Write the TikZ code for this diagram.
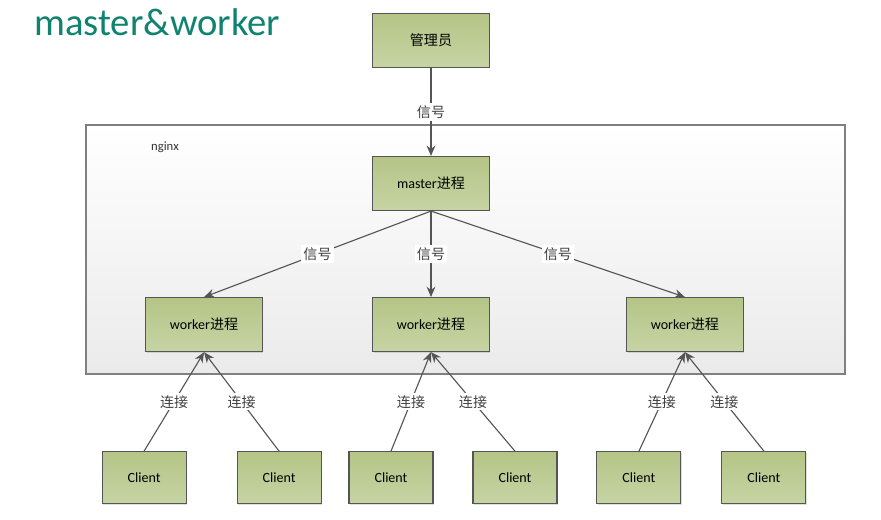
\documentclass[tikz,border=0pt]{standalone}
\usepackage{fontspec}
\setmainfont{Carlito}
\newfontfamily\cjk{Noto Sans CJK SC}
\usepackage{xcolor}
\definecolor{boxgreen}{RGB}{180, 197, 134}
\definecolor{linegray}{RGB}{85, 85, 85}
\definecolor{titleteal}{RGB}{16, 130, 112}
\usepackage{tikz}
\usetikzlibrary{
    arrows.meta,
    positioning,
    shadows
}
\tikzstyle{arrow} = [
    thick,
    draw=linegray,
    -{Stealth[length=2.6mm, width=2.2mm]}
]

\begin{document}
\begin{tikzpicture}[
  node distance=2.15cm and 2.725cm,
  box/.style={draw=linegray, thick, top color=boxgreen, bottom color=boxgreen!75!white,
    minimum width=2.92cm, minimum height=1.35cm, font=\normalsize,
    drop shadow={opacity=0.25, shadow xshift=0.7pt, shadow yshift=-0.7pt}},
  client/.style={box, minimum width=2.1cm, minimum height=1.3cm},
  lbl/.style={fill=white, inner sep=1.5pt, font=\cjk\normalsize, text=black!75},
  frame/.style={draw=black!50, thick, top color=white, bottom color=black!8}
]
\useasboundingbox (0,0) rectangle (22.025,-13);

\node[anchor=base west, inner sep=0pt, text=titleteal, font=\fontsize{27.5}{32}\selectfont] (title) at (0.85,-0.88) {master\&worker};

% nginx frame
\draw[frame] (2.15,-3.125) rectangle (21.125,-9.35);
\node[font=\small, text=black!80] (nginx) at (4.125,-3.675) {nginx};

\node[box] (master) at (10.775,-4.5875) {master{\cjk 进程}};
\node[box] (admin) [above=2.2cm of master] {\cjk 管理员};
\node[box] (w2) [below=of master] {worker{\cjk 进程}};
\node[box] (w1) [left=of w2] {worker{\cjk 进程}};
\node[box] (w3) [right=3.4cm of w2] {worker{\cjk 进程}};

\node[client] (c1) [below=2.475cm of w1, xshift=-1.5cm] {Client};
\node[client] (c2) [below=2.475cm of w1, xshift=1.875cm] {Client};
\node[client] (c3) [below=2.475cm of w2, xshift=-1cm] {Client};
\node[client] (c4) [below=2.475cm of w2, xshift=2.1cm] {Client};
\node[client] (c5) [below=2.475cm of w3, xshift=-1.15cm] {Client};
\node[client] (c6) [below=2.475cm of w3, xshift=1.975cm] {Client};

\draw[arrow] (admin)  -- (master) node[midway, lbl] {信号};
\draw[arrow] (master.south) -- (w1.north) node[midway, lbl] {信号};
\draw[arrow] (master.south) -- (w2.north) node[midway, lbl] {信号};
\draw[arrow] (master.south) -- (w3.north) node[midway, lbl] {信号};

\draw[arrow] (c1.north) -- (w1.south) node[midway, lbl] {连接};
\draw[arrow] (c2.north) -- (w1.south) node[midway, lbl] {连接};
\draw[arrow] (c3.north) -- (w2.south) node[midway, lbl] {连接};
\draw[arrow] (c4.north) -- (w2.south) node[midway, lbl] {连接};
\draw[arrow] (c5.north) -- (w3.south) node[midway, lbl] {连接};
\draw[arrow] (c6.north) -- (w3.south) node[midway, lbl] {连接};

\end{tikzpicture}
\end{document}
